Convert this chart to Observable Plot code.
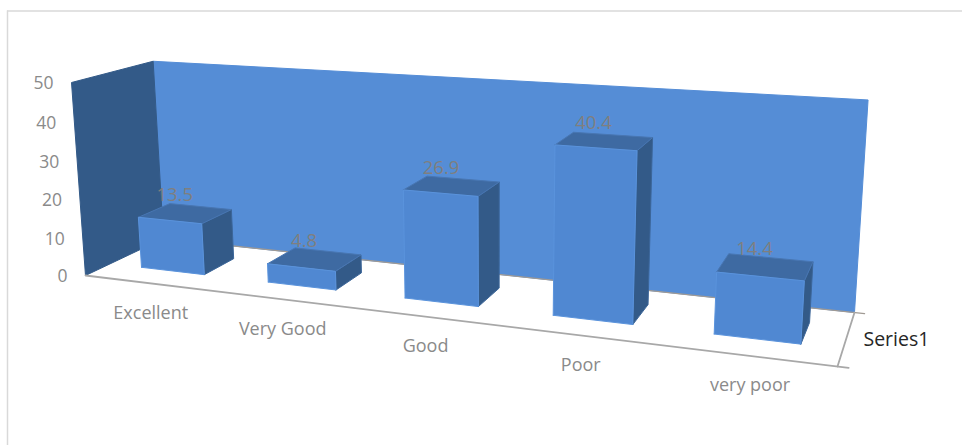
<!DOCTYPE html>
<html>
<head>
<meta charset="utf-8">
<script src="https://cdn.jsdelivr.net/npm/d3@7"></script>
<script src="https://cdn.jsdelivr.net/npm/@observablehq/plot@0.6"></script>
<style>
  html, body { margin: 0; padding: 0; background: #fff; }
  svg { display: block; }
</style>
</head>
<body>
<div id="chart"></div>
<script>
// Chart data
const categories = ["Excellent", "Very Good", "Good", "Poor", "very poor"];
const values = [13.5, 4.8, 26.9, 40.4, 14.4];
const valueTicks = [0, 10, 20, 30, 40, 50];
const seriesName = "Series1";

// Perspective camera: homogeneous column vectors for the box axes
// u = along categories, d = into the depth, v = value / axis maximum.
const origin = [85, 275, 1];
const uEnd = [837, 366, 1], dEnd = [163, 238, 1], vEnd = [71, 82, 1];
const uWeight = 0.8124, dWeight = 1.0929, vWeight = 0.967;
const sub = (a, k) => a.map((c, i) => c * k - origin[i]);
const axisU = sub(uEnd, uWeight), axisD = sub(dEnd, dWeight), axisV = sub(vEnd, vWeight);
const vMax = d3.max(valueTicks);

function project(u, d, value) {
  const v = value / vMax;
  const h = [0, 1, 2].map(i => u * axisU[i] + d * axisD[i] + v * axisV[i] + origin[i]);
  return {x: h[0] / h[2], y: h[1] / h[2]};
}

// Closed polygon points for a face, tagged with an id for grouping
const face = (id, corners) =>
  [...corners, corners[0]].map(([u, d, v]) => ({id, ...project(u, d, v)}));

const band = 1 / categories.length;
const barSpan = band * 0.505;
const barShift = 0.002;
const depth0 = 0.3, depth1 = 0.71;
const bars = categories.map((name, i) => {
  const c = (i + 0.5) * band;
  return {name, value: values[i], c, u0: c + barShift - barSpan / 2, u1: c + barShift + barSpan / 2};
});

const fronts = bars.flatMap(b => face(b.name, [
  [b.u0, depth0, 0], [b.u1, depth0, 0], [b.u1, depth0, b.value], [b.u0, depth0, b.value]
]));
const sides = bars.flatMap(b => face(b.name, [
  [b.u1, depth0, 0], [b.u1, depth1, 0], [b.u1, depth1, b.value], [b.u1, depth0, b.value]
]));
const tops = bars.flatMap(b => face(b.name, [
  [b.u0, depth0, b.value], [b.u1, depth0, b.value], [b.u1, depth1, b.value], [b.u0, depth1, b.value]
]));
const backWall = face("back", [[0, 1, 0], [1, 1, 0], [1, 1, vMax], [0, 1, vMax]]);
const sideWall = face("side", [[0, 0, 0], [0, 1, 0], [0, 1, vMax], [0, 0, vMax]]);

const polygon = (pts, fill, stroke = fill) =>
  Plot.line(pts, {x: "x", y: "y", z: "id", fill, stroke, strokeWidth: 1, strokeLinejoin: "round"});
const edge = (a, b, stroke, strokeWidth = 1.5) =>
  Plot.line([project(...a), project(...b)], {x: "x", y: "y", stroke, strokeWidth});

const axisGray = "#a8a8a8";
const labelGray = "#8a8a8a";
const font = "'Open Sans', sans-serif";

const plot = Plot.plot({
  width: 962,
  height: 445,
  margin: 0,
  style: {background: "#fff", fontFamily: font},
  x: {domain: [0, 962], range: [0, 962], axis: null},
  y: {domain: [0, 445], range: [0, 445], axis: null},
  marks: [
    // Chart area border, open at the right and the bottom
    Plot.ruleX([7], {y1: 10.5, y2: 445, stroke: "#d9d9d9", strokeWidth: 1.5}),
    Plot.ruleY([10.5], {x1: 7, x2: 962, stroke: "#d9d9d9", strokeWidth: 1.5}),

    // Walls
    polygon(backWall, "#558dd6"),
    polygon(sideWall, "#335a88"),

    // Floor edges with the short tick marks past the corner
    edge([0, 1, 0], [1.012, 1, 0], "#a09a94", 1.3),
    edge([0, 0, 0], [1.012, 0, 0], axisGray, 1.8),
    edge([1, 0, 0], [1, 1, 0], axisGray, 1.8),

    // Bars
    polygon(sides, "#335a88", "#3c6699"),
    polygon(tops, "#3e6aa2", "#4876b2"),
    polygon(fronts, "#5088d2", "#5a93dc"),

    // Value axis labels, offset from the front-left edge of the box
    Plot.text(valueTicks, {
      x: t => project(0, 0, t).x, y: t => project(0, 0, t).y, text: String,
      dx: -18, dy: 1, textAnchor: "end", fontSize: 17.5, fill: labelGray
    }),

    // Category labels under the front edge
    Plot.text(bars, {
      x: b => project(b.c, 0, 0).x, y: b => project(b.c, 0, 0).y, text: "name",
      dx: 3, dy: 30, textAnchor: "middle", fontSize: 18, fill: labelGray
    }),

    // Value labels above each bar's top face
    Plot.text(bars, {
      x: b => project(b.c, 0.5, b.value).x, y: b => project(b.c, 0.5, b.value).y,
      text: b => b.value.toFixed(1),
      dx: -9, dy: -18, textAnchor: "middle", fontSize: 18.5, fill: "#7f7f7f"
    }),

    // Series label on the depth axis
    Plot.text([seriesName], {
      x: () => project(1, 0.5, 0).x, y: () => project(1, 0.5, 0).y, text: String,
      dx: 17, dy: 2, textAnchor: "start", fontSize: 19.5, fill: "#262626"
    })
  ]
});
document.getElementById("chart").append(plot);
</script>
</body>
</html>
